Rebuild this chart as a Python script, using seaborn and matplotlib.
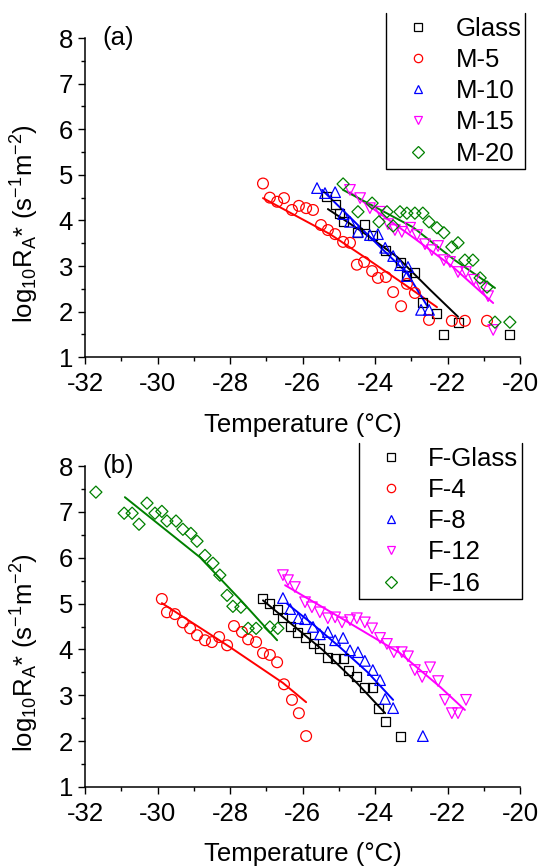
import matplotlib
matplotlib.use('Agg')
import matplotlib.pyplot as plt
from matplotlib.ticker import MultipleLocator
from matplotlib.lines import Line2D
import seaborn as sns

# ---------------- panel (a): measured points (temperature in C, log10 RA*)
glass_T = [-25.35, -25.10, -24.99, -24.88, -24.47, -24.30, -24.06, -23.72, -23.31,
           -23.12, -22.90, -22.70, -22.29, -22.12, -21.71, -20.28]
glass_v = [4.52, 4.36, 4.16, 3.97, 3.73, 3.92, 3.68, 3.35, 3.07,
           2.80, 2.85, 2.21, 1.97, 1.49, 1.77, 1.49]

m5_T = [-27.09, -26.90, -26.70, -26.51, -26.29, -26.10, -25.90, -25.71, -25.49, -25.30,
        -25.10, -24.88, -24.69, -24.50, -24.30, -24.08, -23.92, -23.70, -23.50, -23.28,
        -23.12, -22.90, -22.51, -21.88, -21.52, -20.91]
m5_v = [4.81, 4.50, 4.41, 4.49, 4.23, 4.32, 4.27, 4.23, 3.90, 3.79,
        3.70, 3.53, 3.51, 3.03, 3.09, 2.89, 2.74, 2.76, 2.43, 2.12,
        2.61, 2.41, 1.82, 1.80, 1.80, 1.80]

m10_T = [-25.60, -25.38, -25.10, -24.88, -24.69, -24.47, -24.14, -23.92, -23.72,
         -23.50, -23.31, -23.09, -23.12, -22.73, -22.51]
m10_v = [4.71, 4.60, 4.62, 4.14, 3.97, 3.75, 3.68, 3.70, 3.40,
         3.22, 3.02, 2.98, 2.78, 2.04, 2.04]

m15_T = [-24.69, -24.41, -24.14, -23.86, -23.64, -23.45, -23.26, -23.03, -22.84, -22.62,
         -22.43, -22.26, -22.10, -21.93, -21.71, -21.49, -21.27, -21.05, -20.88, -20.74]
m15_v = [4.67, 4.49, 4.27, 4.19, 3.92, 3.79, 3.75, 3.84, 3.68, 3.48,
         3.35, 3.44, 3.13, 3.09, 2.87, 2.87, 2.70, 2.52, 2.34, 1.60]

m20_T = [-24.88, -24.47, -24.08, -23.89, -23.67, -23.50, -23.31, -23.12, -22.90, -22.68,
         -22.51, -22.29, -22.10, -21.88, -21.71, -21.52, -21.30, -21.10, -20.91, -20.69, -20.28]
m20_v = [4.80, 4.19, 4.38, 3.97, 4.19, 3.88, 4.19, 4.16, 4.16, 4.16,
         3.97, 3.84, 3.73, 3.42, 3.51, 3.13, 3.13, 2.74, 2.54, 1.77, 1.77]

# panel (a): fitted curves
glass_fit_T = [-25.30, -24.33, -23.39, -22.48, -21.71]
glass_fit_v = [4.25, 3.74, 3.20, 2.48, 1.89]
m5_fit_T = [-27.09, -25.24, -24.22, -23.30, -22.29]
m5_fit_v = [4.49, 3.70, 3.16, 2.66, 2.10]
m10_fit_T = [-25.46, -24.69, -23.86, -23.12, -22.54]
m10_fit_v = [4.67, 4.07, 3.42, 2.85, 2.10]
m15_fit_T = [-24.69, -22.95, -21.85, -20.74]
m15_fit_v = [4.62, 3.63, 2.98, 2.19]
m20_fit_T = [-24.88, -22.95, -21.80, -20.69]
m20_fit_v = [4.67, 3.85, 3.13, 2.52]

# ---------------- panel (b): measured points
fglass_T = [-27.09, -26.90, -26.70, -26.54, -26.34, -26.15, -25.93, -25.71, -25.52, -25.32,
            -25.10, -24.88, -24.72, -24.50, -24.30, -24.08, -23.89, -23.70, -23.31]
fglass_v = [5.10, 5.01, 4.86, 4.70, 4.49, 4.36, 4.27, 4.12, 4.03, 3.83,
            3.81, 3.81, 3.53, 3.40, 3.16, 3.16, 2.72, 2.42, 2.11]

f4_T = [-29.88, -29.74, -29.52, -29.30, -29.10, -28.91, -28.69, -28.50, -28.30, -28.08,
        -27.89, -27.67, -27.50, -27.28, -27.09, -26.90, -26.70, -26.51, -26.29, -26.10, -25.90]
f4_v = [5.10, 4.81, 4.77, 4.59, 4.46, 4.31, 4.20, 4.16, 4.27, 4.09,
        4.51, 4.38, 4.22, 4.16, 3.92, 3.88, 3.72, 3.24, 2.90, 2.61, 2.11]

f8_T = [-26.54, -26.34, -26.12, -25.93, -25.71, -25.52, -25.30, -25.10, -24.88,
        -24.69, -24.47, -24.28, -24.06, -23.86, -23.72, -23.50, -22.68]
f8_v = [5.12, 4.88, 4.68, 4.66, 4.49, 4.33, 4.38, 4.20, 4.25,
        3.98, 3.94, 3.75, 3.55, 3.33, 2.92, 2.72, 2.11]

f12_T = [-26.54, -26.40, -26.21, -25.93, -25.74, -25.52, -25.30, -25.10, -24.91, -24.69,
         -24.50, -24.28, -24.08, -23.86, -23.67, -23.48, -23.26, -23.09, -22.90, -22.70,
         -22.48, -22.26, -22.07, -21.88, -21.71, -21.49]
f12_v = [5.62, 5.51, 5.36, 5.03, 4.92, 4.81, 4.68, 4.70, 4.59, 4.64,
         4.68, 4.59, 4.46, 4.25, 4.12, 3.94, 3.94, 3.85, 3.55, 3.40,
         3.61, 3.31, 2.90, 2.61, 2.61, 2.90]

f16_T = [-31.70, -30.92, -30.70, -30.51, -30.29, -30.07, -29.88, -29.74, -29.49, -29.30,
         -29.08, -28.91, -28.69, -28.47, -28.28, -28.08, -27.92, -27.70, -27.50, -27.28,
         -26.90, -26.68]
f16_v = [7.43, 6.97, 6.97, 6.73, 7.19, 6.97, 7.01, 6.80, 6.80, 6.62,
         6.53, 6.36, 6.05, 5.88, 5.62, 5.18, 4.94, 4.92, 4.46, 4.46,
         4.49, 4.46]

# panel (b): fitted curves
fglass_fit_T = [-27.09, -25.43, -24.50, -23.72]
fglass_fit_v = [5.07, 3.98, 3.27, 2.61]
f4_fit_T = [-29.88, -28.00, -26.54, -25.90]
f4_fit_v = [5.01, 4.05, 3.27, 2.85]
f8_fit_T = [-26.43, -25.70, -24.97, -24.20, -23.50]
f8_fit_v = [5.00, 4.54, 4.05, 3.50, 2.90]
f12_fit_T = [-26.48, -24.97, -23.31, -22.20, -21.52]
f12_fit_v = [5.40, 4.70, 3.92, 3.18, 2.68]
f16_fit_T = [-30.90, -28.83, -27.70, -26.70]
f16_fit_v = [7.32, 6.01, 5.07, 4.20]

labels_a = ['Glass', 'M-5', 'M-10', 'M-15', 'M-20']
labels_b = ['F-Glass', 'F-4', 'F-8', 'F-12', 'F-16']

colors = ['black', 'red', 'blue', 'magenta', 'green']
markers = ['s', 'o', '^', 'v', 'D']
msizes = [42, 60, 58, 58, 38]

points_a = [(glass_T, glass_v), (m5_T, m5_v), (m10_T, m10_v), (m15_T, m15_v), (m20_T, m20_v)]
fits_a = [(glass_fit_T, glass_fit_v), (m5_fit_T, m5_fit_v), (m10_fit_T, m10_fit_v),
          (m15_fit_T, m15_fit_v), (m20_fit_T, m20_fit_v)]
points_b = [(fglass_T, fglass_v), (f4_T, f4_v), (f8_T, f8_v), (f12_T, f12_v), (f16_T, f16_v)]
fits_b = [(fglass_fit_T, fglass_fit_v), (f4_fit_T, f4_fit_v), (f8_fit_T, f8_fit_v),
          (f12_fit_T, f12_fit_v), (f16_fit_T, f16_fit_v)]

sns.set_theme(style='ticks')
plt.rcParams['font.family'] = ['Liberation Sans', 'DejaVu Sans']
plt.rcParams['mathtext.fontset'] = 'custom'
plt.rcParams['mathtext.rm'] = 'Liberation Sans'
plt.rcParams['mathtext.it'] = 'Liberation Sans:italic'
plt.rcParams['axes.unicode_minus'] = False
for k in ['text.color', 'axes.labelcolor', 'xtick.color', 'ytick.color', 'axes.edgecolor']:
    plt.rcParams[k] = 'black'
FS = 18.5

W, H = 541, 866
fig = plt.figure(figsize=(W / 100, H / 100), dpi=100)
ax_a = fig.add_axes([85 / W, 1 - 357.3 / H, 435 / W, 319.3 / H])
ax_b = fig.add_axes([85 / W, 1 - 787 / H, 435 / W, 321 / H])


def draw_panel(ax, points, fits, labels, tag, leg_left, leg_top):
    for (T, v), (fT, fv), c, m, s in zip(points, fits, colors, markers, msizes):
        sns.lineplot(x=fT, y=fv, color=c, lw=1.4, ax=ax, estimator=None, sort=False)
        sns.scatterplot(x=T, y=v, marker=m, s=s, facecolors='none', edgecolor=c,
                        linewidth=0.9, ax=ax, zorder=3)
    ax.set_xlim(-32, -20)
    ax.set_ylim(1, 8)
    ax.xaxis.set_major_locator(MultipleLocator(2))
    ax.xaxis.set_minor_locator(MultipleLocator(1))
    ax.yaxis.set_major_locator(MultipleLocator(1))
    ax.yaxis.set_minor_locator(MultipleLocator(0.5))
    ax.tick_params(which='major', length=5, width=1, labelsize=FS)
    ax.tick_params(axis='x', which='major', pad=5.5)
    ax.tick_params(which='minor', length=3, width=1)
    for sp in ['left', 'bottom']:
        ax.spines[sp].set_linewidth(1.1)
    sns.despine(ax=ax)
    ax.set_xlabel('Temperature (\u00b0C)', fontsize=FS, labelpad=12)
    ax.set_ylabel(r'log$_{10}$R$_{\rm A}$* (s$^{-1}$m$^{-2}$)', fontsize=FS)
    ax.yaxis.set_label_coords(-0.1, 0.42)
    ax.text(0.04, 1.0, tag, transform=ax.transAxes, fontsize=FS, va='center', ha='left')

    handles = [Line2D([], [], ls='none', marker=m, markersize=6, markerfacecolor='none',
                      markeredgecolor=c, markeredgewidth=0.9)
               for c, m in zip(colors, markers)]
    leg = ax.legend(handles, labels, loc='upper left', frameon=False, fontsize=FS,
                    bbox_to_anchor=(leg_left / W, 1 - leg_top / H),
                    bbox_transform=fig.transFigure, borderaxespad=0, borderpad=0.15,
                    handlelength=2.2, handletextpad=0.35, labelspacing=0.28)
    return leg


leg_a = draw_panel(ax_a, points_a, fits_a, labels_a, '(a)', 386, 13)
leg_b = draw_panel(ax_b, points_b, fits_b, labels_b, '(b)', 359, 443)

# legend boxes drawn open at the top, as in the original figure
fig.canvas.draw()
inv = fig.transFigure.inverted()
for leg in [leg_a, leg_b]:
    bb = leg.get_window_extent().transformed(inv)
    x0, y0, x1, y1 = bb.x0, bb.y0, bb.x1, bb.y1
    fig.add_artist(Line2D([x0, x0, x1, x1], [y1, y0, y0, y1], color='black', lw=1.0,
                          transform=fig.transFigure))

fig.savefig('out.png', dpi=100)
